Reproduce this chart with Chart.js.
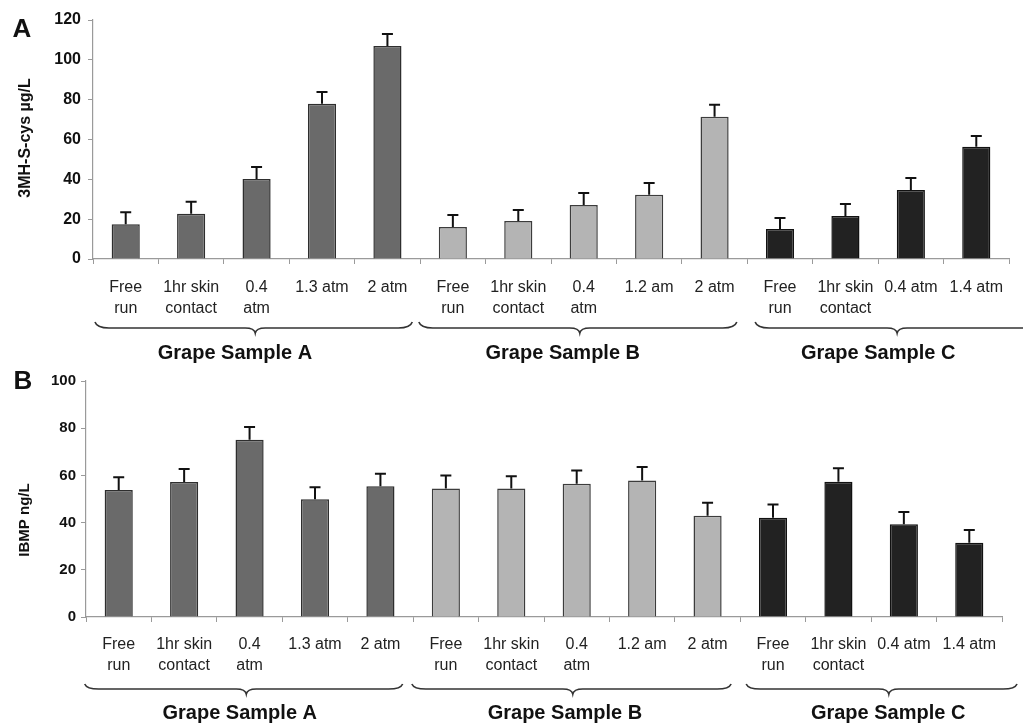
<!DOCTYPE html>
<html>
<head>
<meta charset="utf-8">
<script src="https://cdn.jsdelivr.net/npm/chart.js@4.4.1/dist/chart.umd.min.js"></script>
<style>
  html, body { margin: 0; padding: 0; background: #ffffff; }
  #wrap { position: relative; width: 1023px; height: 724px; overflow: hidden; background: #fff; }
  #c1 { position: absolute; left: 0; top: 0; }
  #c2 { position: absolute; left: 0; top: 362px; }
</style>
</head>
<body>
<div id="wrap">
  <canvas id="c1" width="1023" height="365"></canvas>
  <canvas id="c2" width="1023" height="362"></canvas>
</div>
<script>
// ---------- DATA ----------
const categories = [
  ['Free', 'run'], ['1hr skin', 'contact'], ['0.4', 'atm'], '1.3 atm', '2 atm',
  ['Free', 'run'], ['1hr skin', 'contact'], ['0.4', 'atm'], '1.2 am', '2 atm',
  ['Free', 'run'], ['1hr skin', 'contact'], '0.4 atm', '1.4 atm'
];
const sampleGroup = [0, 0, 0, 0, 0, 1, 1, 1, 1, 1, 2, 2, 2, 2];
const groupNames = ['Grape Sample A', 'Grape Sample B', 'Grape Sample C'];

// Panel A: 3MH-S-cys (µg/L)
const mhValues = [17.5, 22.7, 40.2, 77.9, 107.0, 16.1, 19.1, 27.1, 32.2, 71.4, 15.1, 21.6, 34.7, 56.3];
const mhErrors = [6.0, 6.0, 6.0, 6.0, 6.0, 6.0, 5.5, 6.1, 6.0, 6.0, 5.5, 6.0, 6.0, 5.5];
const mhTicks = [0, 20, 40, 60, 80, 100, 120];

// Panel B: IBMP (ng/L)
const ibmpValues = [53.8, 57.2, 75.1, 49.9, 55.4, 54.5, 54.5, 56.5, 57.8, 42.9, 42.1, 57.3, 39.3, 31.5];
const ibmpErrors = [5.4, 5.5, 5.4, 5.1, 5.3, 5.5, 5.1, 5.6, 5.8, 5.5, 5.6, 5.7, 5.2, 5.4];
const ibmpTicks = [0, 20, 40, 60, 80, 100];

// Brace spans (in category index units) for each group
const bracesA = [[-0.47, 4.38, 1.98], [4.48, 9.34, 6.94], [9.62, 13.96, 11.79]];
const labelsPosA = [1.67, 6.68, 11.5];
const bracesB = [[-0.52, 4.34, 1.95], [4.48, 9.36, 6.94], [9.59, 13.73, 11.77]];
const labelsPosB = [1.85, 6.82, 11.76];

// ---------- STYLE ----------
const groupFill = ['#6a6a6a', '#b4b4b4', '#222222'];
const groupBorder = ['#2e2e2e', '#3c3c3c', '#111111'];
const FONT = '"Liberation Sans", Arial, Helvetica, sans-serif';

function errorBarPlugin(errors) {
  return {
    id: 'errbars',
    afterDatasetsDraw(chart) {
      const ctx = chart.ctx;
      const meta = chart.getDatasetMeta(0);
      const ys = chart.scales.y;
      const vals = chart.data.datasets[0].data;
      ctx.save();
      ctx.strokeStyle = '#111';
      ctx.lineWidth = 2;
      meta.data.forEach((el, i) => {
        const yt = ys.getPixelForValue(vals[i] + errors[i]);
        ctx.beginPath();
        ctx.moveTo(el.x, el.y);
        ctx.lineTo(el.x, yt);
        ctx.moveTo(el.x - 5.5, yt);
        ctx.lineTo(el.x + 5.5, yt);
        ctx.stroke();
      });
      ctx.restore();
    }
  };
}

function decorPlugin(cfg) {
  return {
    id: 'decor',
    afterDraw(chart) {
      const ctx = chart.ctx;
      const xs = chart.scales.x;
      const axisY = chart.chartArea.bottom;
      ctx.save();
      // braces
      ctx.strokeStyle = '#333';
      ctx.lineWidth = 1.6;
      cfg.braces.forEach(b => {
        const xL = xs.getPixelForValue(b[0]);
        const xR = xs.getPixelForValue(b[1]);
        const xT = xs.getPixelForValue(b[2]);
        const yE = axisY + cfg.braceEnd, yL = axisY + cfg.braceLine, yT = axisY + cfg.braceTip;
        const r = 14, rt = 10;
        ctx.beginPath();
        ctx.moveTo(xL, yE);
        ctx.quadraticCurveTo(xL + 2, yL, xL + r, yL);
        ctx.lineTo(xT - rt, yL);
        ctx.quadraticCurveTo(xT - 1, yL, xT, yT);
        ctx.quadraticCurveTo(xT + 1, yL, xT + rt, yL);
        ctx.lineTo(xR - r, yL);
        ctx.quadraticCurveTo(xR - 2, yL, xR, yE);
        ctx.stroke();
      });
      // group labels
      ctx.fillStyle = '#111';
      ctx.font = 'bold 20px ' + FONT;
      ctx.textAlign = 'center';
      ctx.textBaseline = 'middle';
      cfg.labelPos.forEach((p, i) => {
        ctx.fillText(groupNames[i], xs.getPixelForValue(p), axisY + cfg.labelY);
      });
      // panel letter
      ctx.font = 'bold 26px ' + FONT;
      ctx.fillText(cfg.letter, cfg.letterX, cfg.letterY);
      // y title
      ctx.translate(cfg.titleX, cfg.titleY);
      ctx.rotate(-Math.PI / 2);
      ctx.font = 'bold ' + cfg.titleSize + 'px ' + FONT;
      ctx.fillText(cfg.title, 0, 0);
      ctx.restore();
    }
  };
}

function makeChart(canvasId, values, errors, ticks, opts) {
  return new Chart(document.getElementById(canvasId), {
    type: 'bar',
    data: {
      labels: categories,
      datasets: [{
        data: values,
        backgroundColor: sampleGroup.map(g => groupFill[g]),
        borderColor: sampleGroup.map(g => groupBorder[g]),
        borderWidth: 1.5,
        barPercentage: 0.43,
        categoryPercentage: 1.0
      }]
    },
    options: {
      responsive: false,
      animation: false,
      devicePixelRatio: 1,
      layout: { padding: { left: 0, right: opts.padRight, top: opts.padTop, bottom: 0 } },
      plugins: { legend: { display: false }, tooltip: { enabled: false }, title: { display: false } },
      scales: {
        x: {
          offset: true,
          border: { color: '#9a9a9a', width: 1.2 },
          grid: { display: true, drawOnChartArea: false, drawTicks: true, tickLength: 5, offset: true, color: '#9a9a9a' },
          ticks: {
            color: '#222',
            font: { family: FONT, size: 16, lineHeight: 21 / 16 },
            padding: opts.xPad,
            maxRotation: 0, minRotation: 0, autoSkip: false
          },
          afterFit(s) { s.height = opts.xHeight; }
        },
        y: {
          min: 0,
          max: ticks[ticks.length - 1],
          afterBuildTicks(s) { s.ticks = ticks.map(v => ({ value: v })); },
          border: { color: '#9a9a9a', width: 1.2 },
          grid: { display: true, drawOnChartArea: false, drawTicks: true, tickLength: 5, color: '#9a9a9a' },
          ticks: {
            color: '#111',
            font: { family: FONT, size: opts.yTickSize, weight: 'bold' },
            padding: opts.yPad
          },
          afterFit(s) { s.width = opts.yWidth; }
        }
      }
    },
    plugins: [errorBarPlugin(errors), decorPlugin(opts.decor)]
  });
}

makeChart('c1', mhValues, mhErrors, mhTicks, {
  padRight: 14, padTop: 20, xHeight: 106, yWidth: 93, xPad: 13, yTickSize: 16, yPad: 7,
  decor: {
    braces: bracesA, labelPos: labelsPosA,
    braceEnd: 63, braceLine: 69, braceTip: 74, labelY: 94,
    letter: 'A', letterX: 22, letterY: 30,
    title: '3MH-S-cys µg/L', titleX: 26, titleY: 138, titleSize: 16
  }
});

makeChart('c2', ibmpValues, ibmpErrors, ibmpTicks, {
  padRight: 21, padTop: 19, xHeight: 107, yWidth: 86, xPad: 12, yTickSize: 15, yPad: 5,
  decor: {
    braces: bracesB, labelPos: labelsPosB,
    braceEnd: 67, braceLine: 72, braceTip: 77, labelY: 96,
    letter: 'B', letterX: 23, letterY: 20,
    title: 'IBMP ng/L', titleX: 25, titleY: 158, titleSize: 15
  }
});
</script>
</body>
</html>
